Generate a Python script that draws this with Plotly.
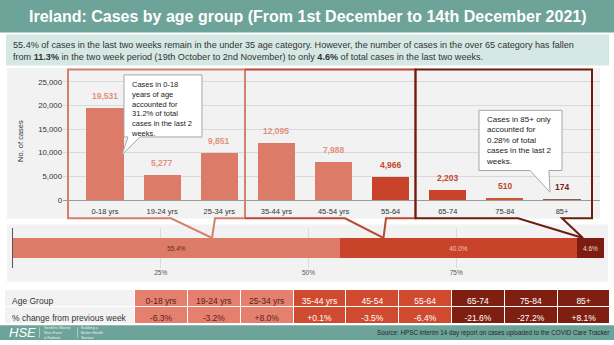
import plotly.graph_objects as go

# ---- data -------------------------------------------------------------
age_groups = ["0-18 yrs", "19-24 yrs", "25-34 yrs", "35-44 yrs", "45-54 yrs",
              "55-64", "65-74", "75-84", "85+"]
cases = [19531, 5277, 9851, 12095, 7988, 4966, 2203, 510, 174]

share_groups = ["Under 35", "35-64", "65+"]
share_pct = [55.4, 40.0, 4.6]

table_groups = ["0-18 yrs", "19-24 yrs", "25-34 yrs", "35-44 yrs", "45-54",
                "55-64", "65-74", "75-84", "85+"]
weekly_change = ["-6.3%", "-3.2%", "+8.0%", "+0.1%", "-3.5%", "-6.4%",
                 "-21.6%", "-27.2%", "+8.1%"]

y_ticks = [0, 5000, 10000, 15000, 20000, 25000]
share_ticks = [25, 50, 75, 100]
share_tick_text = ["25%", "50%", "75%", ""]

# ---- styling ----------------------------------------------------------
W, H = 614, 345
FONT = "Liberation Sans, Arial, sans-serif"
TEAL = "#6da398"
SALMON = "#dd7b69"
RED = "#c9432b"
MAROON = "#7d1d10"

bar_colors = [SALMON] * 5 + [RED, RED, "#cf5236", "#8c5a50"]
label_colors = ["#e3917f"] * 5 + ["#c4472f", "#c4472f", "#c4472f", "#7d1f13"]
share_colors = [SALMON, RED, MAROON]
share_text_colors = ["#6e2a20", "#f3c3b6", "#f6d6cf"]
table_fill = ["#f2f2f2"] + ["#e4806d"] * 3 + ["#cf4a2f"] * 3 + ["#7f1f12"] * 3
table_font = ["#333333"] + ["#5a2219"] * 3 + ["#ffffff"] * 6

NBSP = "\u00a0"


def nowrap(s):
    return s.replace(" ", NBSP)


def px(x, y):
    """pixel position -> paper fraction"""
    return x / W, 1 - y / H


def path(points, close=False):
    s = ""
    for i, (x, y) in enumerate(points):
        fx, fy = px(x, y)
        s += ("M" if i == 0 else " L") + f" {fx:.5f} {fy:.5f}"
    return s + (" Z" if close else "")


def rect(x0, y0, x1, y1, fill, line=None, lw=0, layer="below"):
    a, b = px(x0, y1)
    c, d = px(x1, y0)
    return dict(type="rect", xref="paper", yref="paper", x0=a, y0=b, x1=c, y1=d,
                fillcolor=fill, line=dict(color=line or fill, width=lw), layer=layer)


fig = go.Figure()

# main column chart
fig.add_trace(go.Bar(
    x=age_groups, y=cases, marker=dict(color=bar_colors, line=dict(width=0)),
    width=0.65, xaxis="x", yaxis="y", hoverinfo="skip", showlegend=False))

# 100% share bar
for g, v, c, tc in zip(share_groups, share_pct, share_colors, share_text_colors):
    fig.add_trace(go.Bar(
        y=[0], x=[v], orientation="h", name=g, width=0.5,
        marker=dict(color=c, line=dict(width=0)),
        text=[f"{v:.1f}%"], textposition="inside", insidetextanchor="middle",
        textfont=dict(size=6.5, color=tc, family=FONT), constraintext="none",
        xaxis="x2", yaxis="y2", hoverinfo="skip", showlegend=False))

# weekly change table
fig.add_trace(go.Table(
    domain=dict(x=[4 / W, 610 / W], y=[1 - 330 / H, 1 - 294 / H]),
    columnwidth=[131] + [53] * 9,
    header=dict(values=[nowrap(s) for s in ["Age Group"] + table_groups], height=17,
                fill=dict(color=table_fill),
                line=dict(color="white", width=1),
                align=["left"] + ["center"] * 9,
                font=dict(size=8.5, color=table_font, family=FONT)),
    cells=dict(values=[[nowrap("% change from previous week")]] + [[v] for v in weekly_change],
               height=17, fill=dict(color=table_fill),
               line=dict(color="white", width=1),
               align=["left"] + ["center"] * 9,
               font=dict(size=8.5, color=table_font, family=FONT))))

y_top = (203 - 70) / 0.0048

fig.update_layout(
    width=W, height=H, autosize=False,
    margin=dict(l=0, r=0, t=0, b=0),
    paper_bgcolor="white", plot_bgcolor="rgba(0,0,0,0)",
    font=dict(family=FONT, color="#333333"),
    barmode="stack", bargap=0,
    xaxis=dict(domain=[63 / W, 600 / W], range=[-0.735, 8.665],
               showline=True, linecolor="#9a9a9a", linewidth=1,
               ticks="", ticklabelstandoff=4, tickfont=dict(size=7.5, color="#333333"),
               showgrid=False, anchor="y", fixedrange=True),
    yaxis=dict(domain=[1 - 203 / H, 1 - 70 / H], range=[0, y_top],
               tickvals=y_ticks, tickformat=",", ticks="",
               tickfont=dict(size=7.8, color="#333333"),
               showgrid=True, gridcolor="#d9d9d9", gridwidth=1,
               zeroline=False, showline=False, anchor="x", fixedrange=True),
    xaxis2=dict(domain=[13 / W, 604 / W], range=[0, 100],
                tickvals=share_ticks, ticktext=share_tick_text, ticks="",
                tickfont=dict(size=6.5, color="#555555"),
                showgrid=True, gridcolor="#dcdcdc", gridwidth=1,
                zeroline=False, showline=False, anchor="y2", fixedrange=True),
    yaxis2=dict(domain=[1 - 271.7 / H, 1 - 231.7 / H], range=[-0.5, 0.5],
                showticklabels=False, ticks="", showgrid=False, zeroline=False,
                showline=True, linecolor="#555555", linewidth=1,
                anchor="x2", fixedrange=True),
)

shapes = [
    # header band and summary box
    rect(0, 0, W, 33, TEAL),
    rect(6, 35, 609, 66.5, "#d5e8e4"),
    # chart panels
    rect(7, 69, 600, 221.7, "#f2f2f2"),
    rect(7, 227.7, 608, 286, "#f2f2f2"),
    # footer band
    rect(0, 330, W, H, TEAL),
]

# group frames with pointers into the share bar
shapes.append(dict(type="path", xref="paper", yref="paper", layer="above",
                   path=path([(68, 70.5), (245, 70.5), (245, 221.5), (215, 221.5),
                              (212, 241.5), (171, 221.5), (68, 221.5)], close=True),
                   line=dict(color="#d4806e", width=2)))
shapes.append(dict(type="path", xref="paper", yref="paper", layer="above",
                   path=path([(245, 70.5), (415.5, 70.5), (415.5, 221.5), (386, 221.5),
                              (383.5, 241.5), (345, 221.5), (245, 221.5)]),
                   line=dict(color="#b94a35", width=2)))
shapes.append(dict(type="path", xref="paper", yref="paper", layer="above",
                   path=path([(415.5, 70.5), (592, 70.5), (592, 221.5), (562, 221.5),
                              (583, 241.5), (518, 221.5), (415.5, 221.5)], close=True),
                   line=dict(color="#6e1c10", width=2)))

# callout boxes
shapes.append(dict(type="path", xref="paper", yref="paper", layer="above",
                   path=path([(124, 76), (202, 76), (202, 139), (140, 139), (122, 157),
                              (128, 139), (124, 139)], close=True),
                   fillcolor="white", line=dict(color="#a6a6a6", width=1)))
shapes.append(dict(type="path", xref="paper", yref="paper", layer="above",
                   path=path([(479, 112), (562, 112), (562, 173), (549, 173), (550, 195),
                              (530, 173), (479, 173)], close=True),
                   fillcolor="white", line=dict(color="#a6a6a6", width=1)))

annotations = []


def note(x, y, text, size, color="#333333", xanchor="center", align="center", **kw):
    fx, fy = px(x, y)
    annotations.append(dict(xref="paper", yref="paper", x=fx, y=fy, text=text,
                            showarrow=False, xanchor=xanchor, yanchor="middle",
                            align=align, font=dict(size=size, color=color, family=FONT),
                            **kw))


note(308, 17, "<b>Ireland: Cases by age group (From 1st December to 14th December 2021)</b>",
     16, color="white")
note(11, 52,
     "55.4% of cases in the last two weeks remain in the under 35 age category. However, "
     "the number of cases in the over 65 category has fallen<br>"
     "from <b>11.3%</b> in the two week period (19th October to 2nd November) to only "
     "<b>4.6%</b> of total cases in the last two weeks.",
     9.1, color="#333333", xanchor="left", align="left")
note(21, 143, "No. of cases", 7.5, textangle=-90)

note(129, 111, "Cases in 0-18<br>years of age<br>accounted for<br>31.2% of total<br>"
     "cases in the last 2<br>weeks.", 7.5, color="#222222", xanchor="left", align="left")
note(484, 142.5, "Cases in 85+ only<br>accounted for<br>0.28% of total<br>"
     "cases in the last 2<br>weeks.", 8, color="#222222", xanchor="left", align="left")

# value labels above each column
for g, v, c in zip(age_groups, cases, label_colors):
    annotations.append(dict(xref="x", yref="y", x=g, y=v, text=f"<b>{v:,}</b>",
                            showarrow=False, yanchor="bottom", yshift=5,
                            font=dict(size=8.5, color=c, family=FONT)))

# footer
note(611, 337.5, "Source: HPSC interim 14 day report on cases uploaded to the COVID Care Tracker",
     6.3, color="#1e2a28", xanchor="right")
note(22, 337.5, "<i>HSE</i>", 13, color="white")
note(42, 337.5, "Seirbhís Sláinte<br>Níos Fearr<br>á Forbairt", 3.8, color="#e8f2f0",
     xanchor="left", align="left")
note(79, 337.5, "Building a<br>Better Health<br>Service", 3.8, color="#e8f2f0",
     xanchor="left", align="left")
shapes.append(dict(type="line", xref="paper", yref="paper",
                   x0=77.5 / W, x1=77.5 / W, y0=1 - 332 / H, y1=1 - 343 / H,
                   line=dict(color="#e8f2f0", width=0.5), layer="above"))
shapes.append(dict(type="line", xref="paper", yref="paper",
                   x0=39.5 / W, x1=39.5 / W, y0=1 - 332 / H, y1=1 - 343 / H,
                   line=dict(color="#e8f2f0", width=0.5), layer="above"))

fig.update_layout(shapes=shapes, annotations=annotations)
fig.write_html("out.html", config={"displayModeBar": False})
